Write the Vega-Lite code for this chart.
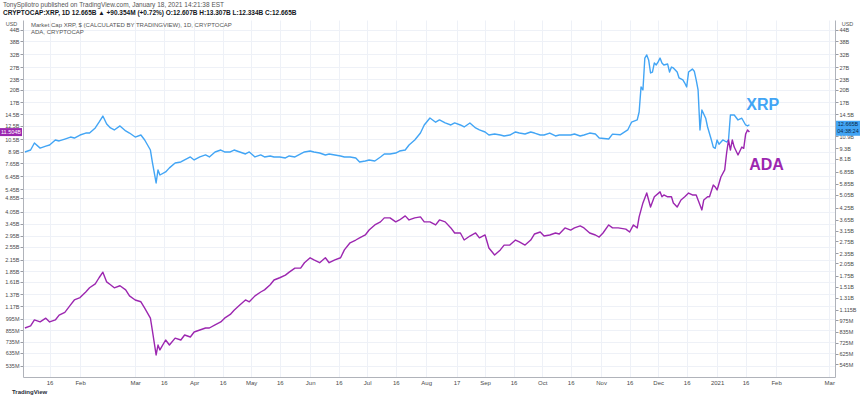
{
  "$schema": "https://vega.github.io/schema/vega-lite/v6.json",
  "width": 812,
  "height": 357,
  "autosize": {"type": "none"},
  "padding": {"left": 23, "top": 20, "right": 25, "bottom": 22},
  "background": "white",
  "config": {"font": "Liberation Sans", "view": {"stroke": null}},
  "title": {
    "text": "TonySpilotro published on TradingView.com, January 18, 2021 14:21:38 EST",
    "subtitle": "CRYPTOCAP:XRP, 1D  12.665B ▲ +90.354M (+0.72%)  O:12.607B  H:13.307B  L:12.334B  C:12.665B",
    "anchor": "start",
    "frame": "group",
    "dx": -20,
    "offset": 4,
    "fontSize": 6.5,
    "fontWeight": "normal",
    "color": "#555555",
    "subtitleFontSize": 6.5,
    "subtitleColor": "#131722",
    "subtitleFontWeight": "bold",
    "subtitlePadding": 1
  },
  "datasets": {
    "prices": [
      {"d":"2020-01-03","s":"XRP","v":8.86},{"d":"2020-01-06","s":"XRP","v":9.09},{"d":"2020-01-08","s":"XRP","v":9.97},{"d":"2020-01-11","s":"XRP","v":9.32},{"d":"2020-01-14","s":"XRP","v":9.57},{"d":"2020-01-16","s":"XRP","v":9.71},{"d":"2020-01-19","s":"XRP","v":10.37},{"d":"2020-01-21","s":"XRP","v":10.24},{"d":"2020-01-24","s":"XRP","v":10.5},{"d":"2020-01-27","s":"XRP","v":10.78},{"d":"2020-01-29","s":"XRP","v":10.64},
      {"d":"2020-02-01","s":"XRP","v":11.07},{"d":"2020-02-04","s":"XRP","v":11.36},{"d":"2020-02-06","s":"XRP","v":11.36},{"d":"2020-02-09","s":"XRP","v":12.15},{"d":"2020-02-11","s":"XRP","v":13.1},{"d":"2020-02-13","s":"XRP","v":14.2},{"d":"2020-02-15","s":"XRP","v":12.8},{"d":"2020-02-17","s":"XRP","v":12.15},{"d":"2020-02-19","s":"XRP","v":11.83},{"d":"2020-02-22","s":"XRP","v":12.47},{"d":"2020-02-25","s":"XRP","v":11.68},{"d":"2020-02-27","s":"XRP","v":11.36},
      {"d":"2020-03-01","s":"XRP","v":10.78},{"d":"2020-03-04","s":"XRP","v":11.07},{"d":"2020-03-06","s":"XRP","v":10.37},{"d":"2020-03-09","s":"XRP","v":9.09},{"d":"2020-03-10","s":"XRP","v":7.77},{"d":"2020-03-12","s":"XRP","v":5.9},{"d":"2020-03-13","s":"XRP","v":7.0},{"d":"2020-03-14","s":"XRP","v":6.55},{"d":"2020-03-17","s":"XRP","v":6.82},{"d":"2020-03-19","s":"XRP","v":7.19},{"d":"2020-03-22","s":"XRP","v":7.67},{"d":"2020-03-25","s":"XRP","v":7.77},{"d":"2020-03-27","s":"XRP","v":7.98},{"d":"2020-03-30","s":"XRP","v":8.3},
      {"d":"2020-04-01","s":"XRP","v":7.98},{"d":"2020-04-04","s":"XRP","v":8.3},{"d":"2020-04-07","s":"XRP","v":8.52},{"d":"2020-04-09","s":"XRP","v":8.3},{"d":"2020-04-12","s":"XRP","v":8.86},{"d":"2020-04-15","s":"XRP","v":9.09},{"d":"2020-04-17","s":"XRP","v":8.86},{"d":"2020-04-20","s":"XRP","v":8.86},{"d":"2020-04-22","s":"XRP","v":9.09},{"d":"2020-04-25","s":"XRP","v":8.86},{"d":"2020-04-28","s":"XRP","v":8.63},{"d":"2020-04-30","s":"XRP","v":8.86},
      {"d":"2020-05-03","s":"XRP","v":8.3},{"d":"2020-05-06","s":"XRP","v":8.52},{"d":"2020-05-08","s":"XRP","v":8.3},{"d":"2020-05-11","s":"XRP","v":8.41},{"d":"2020-05-13","s":"XRP","v":8.3},{"d":"2020-05-16","s":"XRP","v":8.3},{"d":"2020-05-19","s":"XRP","v":8.19},{"d":"2020-05-21","s":"XRP","v":8.41},{"d":"2020-05-24","s":"XRP","v":8.3},{"d":"2020-05-27","s":"XRP","v":8.63},{"d":"2020-05-29","s":"XRP","v":8.86},
      {"d":"2020-06-01","s":"XRP","v":8.97},{"d":"2020-06-03","s":"XRP","v":8.86},{"d":"2020-06-06","s":"XRP","v":8.74},{"d":"2020-06-09","s":"XRP","v":8.52},{"d":"2020-06-11","s":"XRP","v":8.63},{"d":"2020-06-14","s":"XRP","v":8.52},{"d":"2020-06-17","s":"XRP","v":8.41},{"d":"2020-06-19","s":"XRP","v":8.3},{"d":"2020-06-22","s":"XRP","v":8.3},{"d":"2020-06-25","s":"XRP","v":8.19},{"d":"2020-06-27","s":"XRP","v":7.77},{"d":"2020-06-30","s":"XRP","v":7.87},
      {"d":"2020-07-02","s":"XRP","v":7.98},{"d":"2020-07-05","s":"XRP","v":7.87},{"d":"2020-07-08","s":"XRP","v":8.3},{"d":"2020-07-10","s":"XRP","v":8.63},{"d":"2020-07-13","s":"XRP","v":8.63},{"d":"2020-07-16","s":"XRP","v":8.74},{"d":"2020-07-18","s":"XRP","v":8.97},{"d":"2020-07-21","s":"XRP","v":9.09},{"d":"2020-07-23","s":"XRP","v":9.71},{"d":"2020-07-26","s":"XRP","v":10.37},{"d":"2020-07-29","s":"XRP","v":11.36},{"d":"2020-07-31","s":"XRP","v":12.63},
      {"d":"2020-08-03","s":"XRP","v":13.85},{"d":"2020-08-06","s":"XRP","v":13.1},{"d":"2020-08-08","s":"XRP","v":13.49},{"d":"2020-08-11","s":"XRP","v":12.97},{"d":"2020-08-14","s":"XRP","v":12.63},{"d":"2020-08-16","s":"XRP","v":12.97},{"d":"2020-08-19","s":"XRP","v":12.63},{"d":"2020-08-21","s":"XRP","v":12.3},{"d":"2020-08-24","s":"XRP","v":12.97},{"d":"2020-08-27","s":"XRP","v":12.15},{"d":"2020-08-29","s":"XRP","v":11.83},
      {"d":"2020-09-01","s":"XRP","v":11.52},{"d":"2020-09-03","s":"XRP","v":11.07},{"d":"2020-09-06","s":"XRP","v":11.22},{"d":"2020-09-09","s":"XRP","v":11.07},{"d":"2020-09-11","s":"XRP","v":10.93},{"d":"2020-09-14","s":"XRP","v":11.07},{"d":"2020-09-17","s":"XRP","v":11.52},{"d":"2020-09-19","s":"XRP","v":11.36},{"d":"2020-09-22","s":"XRP","v":11.22},{"d":"2020-09-25","s":"XRP","v":11.52},{"d":"2020-09-27","s":"XRP","v":11.36},{"d":"2020-09-30","s":"XRP","v":11.07},
      {"d":"2020-10-02","s":"XRP","v":11.07},{"d":"2020-10-05","s":"XRP","v":11.36},{"d":"2020-10-08","s":"XRP","v":10.93},{"d":"2020-10-10","s":"XRP","v":11.07},{"d":"2020-10-13","s":"XRP","v":11.07},{"d":"2020-10-16","s":"XRP","v":11.07},{"d":"2020-10-18","s":"XRP","v":11.22},{"d":"2020-10-21","s":"XRP","v":10.93},{"d":"2020-10-23","s":"XRP","v":11.07},{"d":"2020-10-26","s":"XRP","v":11.36},{"d":"2020-10-29","s":"XRP","v":11.22},{"d":"2020-10-31","s":"XRP","v":10.64},
      {"d":"2020-11-05","s":"XRP","v":10.5},{"d":"2020-11-07","s":"XRP","v":11.2},{"d":"2020-11-11","s":"XRP","v":11.1},{"d":"2020-11-15","s":"XRP","v":11.83},{"d":"2020-11-17","s":"XRP","v":13.1},{"d":"2020-11-20","s":"XRP","v":13.49},{"d":"2020-11-21","s":"XRP","v":14.98},{"d":"2020-11-22","s":"XRP","v":20.8},{"d":"2020-11-23","s":"XRP","v":20.0},{"d":"2020-11-24","s":"XRP","v":30.4},{"d":"2020-11-25","s":"XRP","v":31.66},{"d":"2020-11-26","s":"XRP","v":29.65},{"d":"2020-11-27","s":"XRP","v":25.0},{"d":"2020-11-28","s":"XRP","v":25.3},{"d":"2020-11-29","s":"XRP","v":28.5},{"d":"2020-11-30","s":"XRP","v":27.76},
      {"d":"2020-12-01","s":"XRP","v":28.9},{"d":"2020-12-02","s":"XRP","v":30.4},{"d":"2020-12-03","s":"XRP","v":28.5},{"d":"2020-12-04","s":"XRP","v":27.76},{"d":"2020-12-06","s":"XRP","v":28.1},{"d":"2020-12-07","s":"XRP","v":25.3},{"d":"2020-12-08","s":"XRP","v":27.0},{"d":"2020-12-09","s":"XRP","v":26.7},{"d":"2020-12-11","s":"XRP","v":25.3},{"d":"2020-12-12","s":"XRP","v":23.4},{"d":"2020-12-14","s":"XRP","v":22.8},{"d":"2020-12-15","s":"XRP","v":21.9},{"d":"2020-12-16","s":"XRP","v":20.8},{"d":"2020-12-17","s":"XRP","v":25.3},{"d":"2020-12-19","s":"XRP","v":26.3},{"d":"2020-12-20","s":"XRP","v":25.6},{"d":"2020-12-21","s":"XRP","v":22.8},{"d":"2020-12-22","s":"XRP","v":20.0},{"d":"2020-12-23","s":"XRP","v":11.83},{"d":"2020-12-24","s":"XRP","v":15.38},{"d":"2020-12-26","s":"XRP","v":13.8},{"d":"2020-12-27","s":"XRP","v":12.3},{"d":"2020-12-29","s":"XRP","v":10.37},{"d":"2020-12-30","s":"XRP","v":9.45},{"d":"2020-12-31","s":"XRP","v":9.3},
      {"d":"2021-01-01","s":"XRP","v":10.37},{"d":"2021-01-02","s":"XRP","v":9.8},{"d":"2021-01-04","s":"XRP","v":10.37},{"d":"2021-01-06","s":"XRP","v":10.1},{"d":"2021-01-07","s":"XRP","v":10.37},{"d":"2021-01-08","s":"XRP","v":14.4},{"d":"2021-01-09","s":"XRP","v":14.4},{"d":"2021-01-10","s":"XRP","v":14.4},{"d":"2021-01-12","s":"XRP","v":13.49},{"d":"2021-01-14","s":"XRP","v":13.8},{"d":"2021-01-16","s":"XRP","v":12.63},{"d":"2021-01-17","s":"XRP","v":12.47},{"d":"2021-01-18","s":"XRP","v":12.665},
      {"d":"2020-01-03","s":"ADA","v":0.879},{"d":"2020-01-06","s":"ADA","v":0.903},{"d":"2020-01-08","s":"ADA","v":0.977},{"d":"2020-01-11","s":"ADA","v":0.952},{"d":"2020-01-14","s":"ADA","v":1.0},{"d":"2020-01-16","s":"ADA","v":0.952},{"d":"2020-01-19","s":"ADA","v":0.977},{"d":"2020-01-21","s":"ADA","v":1.04},{"d":"2020-01-24","s":"ADA","v":1.08},{"d":"2020-01-27","s":"ADA","v":1.19},{"d":"2020-01-29","s":"ADA","v":1.27},
      {"d":"2020-02-01","s":"ADA","v":1.31},{"d":"2020-02-04","s":"ADA","v":1.41},{"d":"2020-02-06","s":"ADA","v":1.49},{"d":"2020-02-09","s":"ADA","v":1.57},{"d":"2020-02-11","s":"ADA","v":1.7},{"d":"2020-02-13","s":"ADA","v":1.83},{"d":"2020-02-15","s":"ADA","v":1.61},{"d":"2020-02-17","s":"ADA","v":1.55},{"d":"2020-02-19","s":"ADA","v":1.49},{"d":"2020-02-22","s":"ADA","v":1.53},{"d":"2020-02-25","s":"ADA","v":1.45},{"d":"2020-02-27","s":"ADA","v":1.34},
      {"d":"2020-03-01","s":"ADA","v":1.27},{"d":"2020-03-04","s":"ADA","v":1.24},{"d":"2020-03-06","s":"ADA","v":1.14},{"d":"2020-03-09","s":"ADA","v":1.0},{"d":"2020-03-10","s":"ADA","v":0.856},{"d":"2020-03-12","s":"ADA","v":0.617},{"d":"2020-03-13","s":"ADA","v":0.703},{"d":"2020-03-14","s":"ADA","v":0.659},{"d":"2020-03-17","s":"ADA","v":0.751},{"d":"2020-03-19","s":"ADA","v":0.703},{"d":"2020-03-22","s":"ADA","v":0.77},{"d":"2020-03-25","s":"ADA","v":0.751},{"d":"2020-03-27","s":"ADA","v":0.802},{"d":"2020-03-30","s":"ADA","v":0.781},
      {"d":"2020-04-01","s":"ADA","v":0.834},{"d":"2020-04-04","s":"ADA","v":0.856},{"d":"2020-04-07","s":"ADA","v":0.879},{"d":"2020-04-09","s":"ADA","v":0.879},{"d":"2020-04-12","s":"ADA","v":0.915},{"d":"2020-04-15","s":"ADA","v":0.952},{"d":"2020-04-17","s":"ADA","v":1.0},{"d":"2020-04-20","s":"ADA","v":1.05},{"d":"2020-04-22","s":"ADA","v":1.11},{"d":"2020-04-25","s":"ADA","v":1.19},{"d":"2020-04-28","s":"ADA","v":1.27},{"d":"2020-04-30","s":"ADA","v":1.24},
      {"d":"2020-05-03","s":"ADA","v":1.34},{"d":"2020-05-06","s":"ADA","v":1.41},{"d":"2020-05-08","s":"ADA","v":1.45},{"d":"2020-05-11","s":"ADA","v":1.55},{"d":"2020-05-13","s":"ADA","v":1.65},{"d":"2020-05-16","s":"ADA","v":1.7},{"d":"2020-05-19","s":"ADA","v":1.76},{"d":"2020-05-21","s":"ADA","v":1.83},{"d":"2020-05-24","s":"ADA","v":1.93},{"d":"2020-05-27","s":"ADA","v":1.93},{"d":"2020-05-29","s":"ADA","v":2.07},
      {"d":"2020-06-01","s":"ADA","v":2.21},{"d":"2020-06-03","s":"ADA","v":2.15},{"d":"2020-06-06","s":"ADA","v":2.07},{"d":"2020-06-09","s":"ADA","v":2.21},{"d":"2020-06-11","s":"ADA","v":2.07},{"d":"2020-06-14","s":"ADA","v":2.15},{"d":"2020-06-17","s":"ADA","v":2.21},{"d":"2020-06-19","s":"ADA","v":2.45},{"d":"2020-06-22","s":"ADA","v":2.69},{"d":"2020-06-25","s":"ADA","v":2.79},{"d":"2020-06-27","s":"ADA","v":2.87},{"d":"2020-06-30","s":"ADA","v":2.98},
      {"d":"2020-07-02","s":"ADA","v":3.18},{"d":"2020-07-05","s":"ADA","v":3.4},{"d":"2020-07-08","s":"ADA","v":3.54},{"d":"2020-07-10","s":"ADA","v":3.73},{"d":"2020-07-13","s":"ADA","v":3.73},{"d":"2020-07-16","s":"ADA","v":3.54},{"d":"2020-07-18","s":"ADA","v":3.63},{"d":"2020-07-21","s":"ADA","v":3.83},{"d":"2020-07-23","s":"ADA","v":3.63},{"d":"2020-07-26","s":"ADA","v":3.73},{"d":"2020-07-29","s":"ADA","v":3.78},{"d":"2020-07-31","s":"ADA","v":3.54},
      {"d":"2020-08-03","s":"ADA","v":3.54},{"d":"2020-08-06","s":"ADA","v":3.4},{"d":"2020-08-08","s":"ADA","v":3.63},{"d":"2020-08-11","s":"ADA","v":3.54},{"d":"2020-08-14","s":"ADA","v":3.27},{"d":"2020-08-16","s":"ADA","v":3.06},{"d":"2020-08-19","s":"ADA","v":3.06},{"d":"2020-08-21","s":"ADA","v":2.79},{"d":"2020-08-24","s":"ADA","v":2.94},{"d":"2020-08-27","s":"ADA","v":3.06},{"d":"2020-08-29","s":"ADA","v":2.87},
      {"d":"2020-09-01","s":"ADA","v":2.98},{"d":"2020-09-03","s":"ADA","v":2.51},{"d":"2020-09-06","s":"ADA","v":2.29},{"d":"2020-09-09","s":"ADA","v":2.45},{"d":"2020-09-11","s":"ADA","v":2.61},{"d":"2020-09-14","s":"ADA","v":2.61},{"d":"2020-09-17","s":"ADA","v":2.79},{"d":"2020-09-19","s":"ADA","v":2.72},{"d":"2020-09-22","s":"ADA","v":2.61},{"d":"2020-09-25","s":"ADA","v":2.79},{"d":"2020-09-27","s":"ADA","v":3.02},{"d":"2020-09-30","s":"ADA","v":3.1},
      {"d":"2020-10-02","s":"ADA","v":2.94},{"d":"2020-10-05","s":"ADA","v":2.98},{"d":"2020-10-08","s":"ADA","v":3.06},{"d":"2020-10-10","s":"ADA","v":3.02},{"d":"2020-10-13","s":"ADA","v":3.27},{"d":"2020-10-16","s":"ADA","v":3.18},{"d":"2020-10-18","s":"ADA","v":3.27},{"d":"2020-10-21","s":"ADA","v":3.36},{"d":"2020-10-23","s":"ADA","v":3.27},{"d":"2020-10-26","s":"ADA","v":3.06},{"d":"2020-10-29","s":"ADA","v":2.98},{"d":"2020-10-31","s":"ADA","v":2.9},
      {"d":"2020-11-02","s":"ADA","v":3.06},{"d":"2020-11-05","s":"ADA","v":3.4},{"d":"2020-11-07","s":"ADA","v":3.27},{"d":"2020-11-10","s":"ADA","v":3.27},{"d":"2020-11-14","s":"ADA","v":3.22},{"d":"2020-11-16","s":"ADA","v":3.1},{"d":"2020-11-18","s":"ADA","v":3.4},{"d":"2020-11-20","s":"ADA","v":3.27},{"d":"2020-11-21","s":"ADA","v":3.78},{"d":"2020-11-23","s":"ADA","v":4.54},{"d":"2020-11-25","s":"ADA","v":5.17},{"d":"2020-11-27","s":"ADA","v":4.3},{"d":"2020-11-29","s":"ADA","v":4.92},
      {"d":"2020-12-02","s":"ADA","v":5.25},{"d":"2020-12-03","s":"ADA","v":4.92},{"d":"2020-12-04","s":"ADA","v":5.04},{"d":"2020-12-06","s":"ADA","v":4.92},{"d":"2020-12-08","s":"ADA","v":4.92},{"d":"2020-12-09","s":"ADA","v":4.54},{"d":"2020-12-11","s":"ADA","v":4.3},{"d":"2020-12-13","s":"ADA","v":4.72},{"d":"2020-12-15","s":"ADA","v":4.92},{"d":"2020-12-17","s":"ADA","v":5.17},{"d":"2020-12-19","s":"ADA","v":5.04},{"d":"2020-12-21","s":"ADA","v":5.04},{"d":"2020-12-22","s":"ADA","v":4.72},{"d":"2020-12-24","s":"ADA","v":4.14},{"d":"2020-12-25","s":"ADA","v":4.72},{"d":"2020-12-27","s":"ADA","v":4.92},{"d":"2020-12-28","s":"ADA","v":4.92},{"d":"2020-12-30","s":"ADA","v":5.74},{"d":"2020-12-31","s":"ADA","v":5.6},
      {"d":"2021-01-01","s":"ADA","v":5.38},{"d":"2021-01-03","s":"ADA","v":6.38},{"d":"2021-01-05","s":"ADA","v":7.0},{"d":"2021-01-06","s":"ADA","v":8.74},{"d":"2021-01-07","s":"ADA","v":10.37},{"d":"2021-01-08","s":"ADA","v":9.09},{"d":"2021-01-09","s":"ADA","v":10.37},{"d":"2021-01-10","s":"ADA","v":9.45},{"d":"2021-01-12","s":"ADA","v":8.52},{"d":"2021-01-14","s":"ADA","v":9.45},{"d":"2021-01-15","s":"ADA","v":9.3},{"d":"2021-01-16","s":"ADA","v":11.2},{"d":"2021-01-17","s":"ADA","v":11.83},{"d":"2021-01-18","s":"ADA","v":11.504}
    ]
  },
  "encoding": {
    "x": {
      "field": "d",
      "type": "temporal",
      "scale": {"type": "utc", "domain": [{"year": 2020, "month": 1, "date": 2, "utc": true}, {"year": 2021, "month": 3, "date": 4, "utc": true}]},
      "axis": {
        "title": null,
        "values": [
          {"year":2020,"month":1,"date":16,"utc":true},{"year":2020,"month":2,"date":1,"utc":true},{"year":2020,"month":3,"date":1,"utc":true},{"year":2020,"month":3,"date":16,"utc":true},
          {"year":2020,"month":4,"date":1,"utc":true},{"year":2020,"month":4,"date":16,"utc":true},{"year":2020,"month":5,"date":1,"utc":true},{"year":2020,"month":5,"date":16,"utc":true},
          {"year":2020,"month":6,"date":1,"utc":true},{"year":2020,"month":6,"date":16,"utc":true},{"year":2020,"month":7,"date":1,"utc":true},{"year":2020,"month":7,"date":16,"utc":true},
          {"year":2020,"month":8,"date":1,"utc":true},{"year":2020,"month":8,"date":17,"utc":true},{"year":2020,"month":9,"date":1,"utc":true},{"year":2020,"month":9,"date":16,"utc":true},
          {"year":2020,"month":10,"date":1,"utc":true},{"year":2020,"month":10,"date":16,"utc":true},{"year":2020,"month":11,"date":1,"utc":true},{"year":2020,"month":11,"date":16,"utc":true},
          {"year":2020,"month":12,"date":1,"utc":true},{"year":2020,"month":12,"date":16,"utc":true},{"year":2021,"month":1,"date":1,"utc":true},{"year":2021,"month":1,"date":16,"utc":true},
          {"year":2021,"month":2,"date":1,"utc":true},{"year":2021,"month":3,"date":1,"utc":true}
        ],
        "labelExpr": "utcdate(datum.value) == 1 ? (utcmonth(datum.value) == 0 ? utcFormat(datum.value, '%Y') : utcFormat(datum.value, '%b')) : utcFormat(datum.value, '%-d')",
        "labelFontSize": 6,
        "labelColor": "#4a4a4a",
        "labelPadding": 2,
        "ticks": false,
        "grid": true,
        "gridColor": "#eef1f7",
        "gridWidth": 1,
        "domainColor": "#b0b3ba",
        "labelOverlap": false,
        "labelFlush": false
      }
    }
  },
  "layer": [
    {
      "data": {"name": "prices"},
      "mark": {"type": "line", "strokeWidth": 1.4, "strokeJoin": "round"},
      "encoding": {
        "y": {
          "field": "v",
          "type": "quantitative",
          "scale": {"type": "log", "domain": [0.462, 50.1], "nice": false, "zero": false},
          "axis": {
            "orient": "left",
            "title": "USD",
            "titleAngle": 0,
            "titleX": -12,
            "titleY": 3,
            "titleFontSize": 5.5,
            "titleFontWeight": "normal",
            "titleColor": "#555",
            "titleAlign": "center",
            "titleBaseline": "middle",
            "values": [44, 38, 32, 27, 23, 20, 17, 14.5, 12.5, 10.5, 8.9, 7.65, 6.45, 5.45, 4.85, 4.05, 3.45, 2.95, 2.55, 2.15, 1.85, 1.61, 1.37, 1.17, 0.995, 0.855, 0.735, 0.635, 0.535],
            "labelExpr": "datum.value >= 1 ? format(datum.value, '.4~r') + 'B' : format(datum.value * 1000, '.3~r') + 'M'",
            "labelFontSize": 5.5,
            "labelColor": "#4a4a4a",
            "labelPadding": 1,
            "tickSize": 3,
            "tickColor": "#9a9da5",
            "grid": true,
            "gridColor": "#eef1f7",
            "domainColor": "#b0b3ba",
            "labelOverlap": false,
            "labelFlush": false
          }
        },
        "color": {
          "field": "s",
          "type": "nominal",
          "scale": {"domain": ["XRP", "ADA"], "range": ["#42a5f5", "#9c27b0"]},
          "legend": {
            "orient": "top-left",
            "title": null,
            "offset": 2,
            "padding": 0,
            "rowPadding": 1,
            "labelFontSize": 6,
            "labelColor": "#555555",
            "labelLimit": 500,
            "symbolSize": 0,
            "symbolStrokeWidth": 0,
            "symbolOpacity": 0,
            "labelOffset": 0,
            "labelExpr": "datum.label == 'XRP' ? 'Market Cap XRP, $ (CALCULATED BY TRADINGVIEW), 1D, CRYPTOCAP' : 'ADA, CRYPTOCAP'"
          }
        }
      }
    },
    {
      "data": {"values": [{"v": 12.665}]},
      "mark": {"type": "rule", "color": "#42a5f5", "strokeWidth": 0.8, "opacity": 0.45},
      "encoding": {
        "y": {
          "field": "v",
          "type": "quantitative",
          "axis": {
            "orient": "right",
            "title": "USD",
            "titleAngle": 0,
            "titleX": 12,
            "titleY": 3,
            "titleFontSize": 5.5,
            "titleFontWeight": "normal",
            "titleColor": "#555",
            "titleAlign": "center",
            "titleBaseline": "middle",
            "values": [44, 38, 32, 27, 23, 20, 17, 14.5, 10.9, 9.3, 8.1, 6.85, 5.85, 5.05, 4.25, 3.65, 3.15, 2.75, 2.35, 2.05, 1.75, 1.51, 1.31, 1.115, 0.975, 0.835, 0.725, 0.625, 0.545],
            "labelExpr": "datum.value >= 1 ? format(datum.value, '.4~r') + 'B' : format(datum.value * 1000, '.3~r') + 'M'",
            "labelFontSize": 5.5,
            "labelColor": "#4a4a4a",
            "labelPadding": 1,
            "tickSize": 3,
            "tickColor": "#9a9da5",
            "grid": false,
            "domainColor": "#b0b3ba",
            "labelOverlap": false,
            "labelFlush": false
          }
        }
      }
    },
    {
      "data": {"values": [{"d": "2020-01-02", "v": 11.504}]},
      "mark": {"type": "rect", "color": "#9c27b0", "xOffset": -23, "x2Offset": -1, "yOffset": -4, "y2Offset": 4},
      "encoding": {
        "x": {"field": "d", "type": "temporal"},
        "x2": {"field": "d"},
        "y": {"field": "v", "type": "quantitative", "axis": null},
        "y2": {"field": "v"}
      }
    },
    {
      "data": {"values": [{"d": "2020-01-02", "v": 11.504, "t": "11.504B"}]},
      "mark": {"type": "text", "color": "white", "fontSize": 5.5, "dx": -12, "align": "center", "baseline": "middle"},
      "encoding": {
        "x": {"field": "d", "type": "temporal"},
        "y": {"field": "v", "type": "quantitative", "axis": null},
        "text": {"field": "t"}
      }
    },
    {
      "data": {"values": [{"d": "2021-03-04", "v": 12.665}]},
      "mark": {"type": "rect", "color": "#42a5f5", "xOffset": 1, "x2Offset": 25, "yOffset": -4, "y2Offset": 11},
      "encoding": {
        "x": {"field": "d", "type": "temporal"},
        "x2": {"field": "d"},
        "y": {"field": "v", "type": "quantitative", "axis": null},
        "y2": {"field": "v"}
      }
    },
    {
      "data": {"values": [{"d": "2021-03-04", "v": 12.665, "t": "12.665B|04:38:24"}]},
      "mark": {"type": "text", "color": "#0d2a4a", "fontSize": 5.5, "dx": 13, "dy": -3, "align": "center", "baseline": "top", "lineBreak": "|", "lineHeight": 7.5},
      "encoding": {
        "x": {"field": "d", "type": "temporal"},
        "y": {"field": "v", "type": "quantitative", "axis": null},
        "text": {"field": "t"}
      }
    },
    {
      "data": {"values": [{"d": "2021-01-25", "v": 16.4, "s": "XRP", "t": "XRP"}, {"d": "2021-01-27", "v": 7.47, "s": "ADA", "t": "ADA"}]},
      "mark": {"type": "text", "fontSize": 16, "fontWeight": "bold", "align": "center", "baseline": "middle", "font": "Liberation Sans"},
      "encoding": {
        "x": {"field": "d", "type": "temporal"},
        "y": {"field": "v", "type": "quantitative", "axis": null},
        "text": {"field": "t"},
        "color": {"field": "s", "type": "nominal", "legend": null}
      }
    },
    {
      "data": {"values": [{"d": "2020-01-02", "v": 0.462, "t": "TradingView"}]},
      "mark": {"type": "text", "fontSize": 6, "fontWeight": "bold", "color": "#2a2e39", "align": "left", "baseline": "middle", "dx": -11, "dy": 15},
      "encoding": {
        "x": {"field": "d", "type": "temporal"},
        "y": {"field": "v", "type": "quantitative", "axis": null},
        "text": {"field": "t"}
      }
    }
  ],
  "resolve": {"axis": {"y": "independent"}, "scale": {"y": "shared"}}
}
